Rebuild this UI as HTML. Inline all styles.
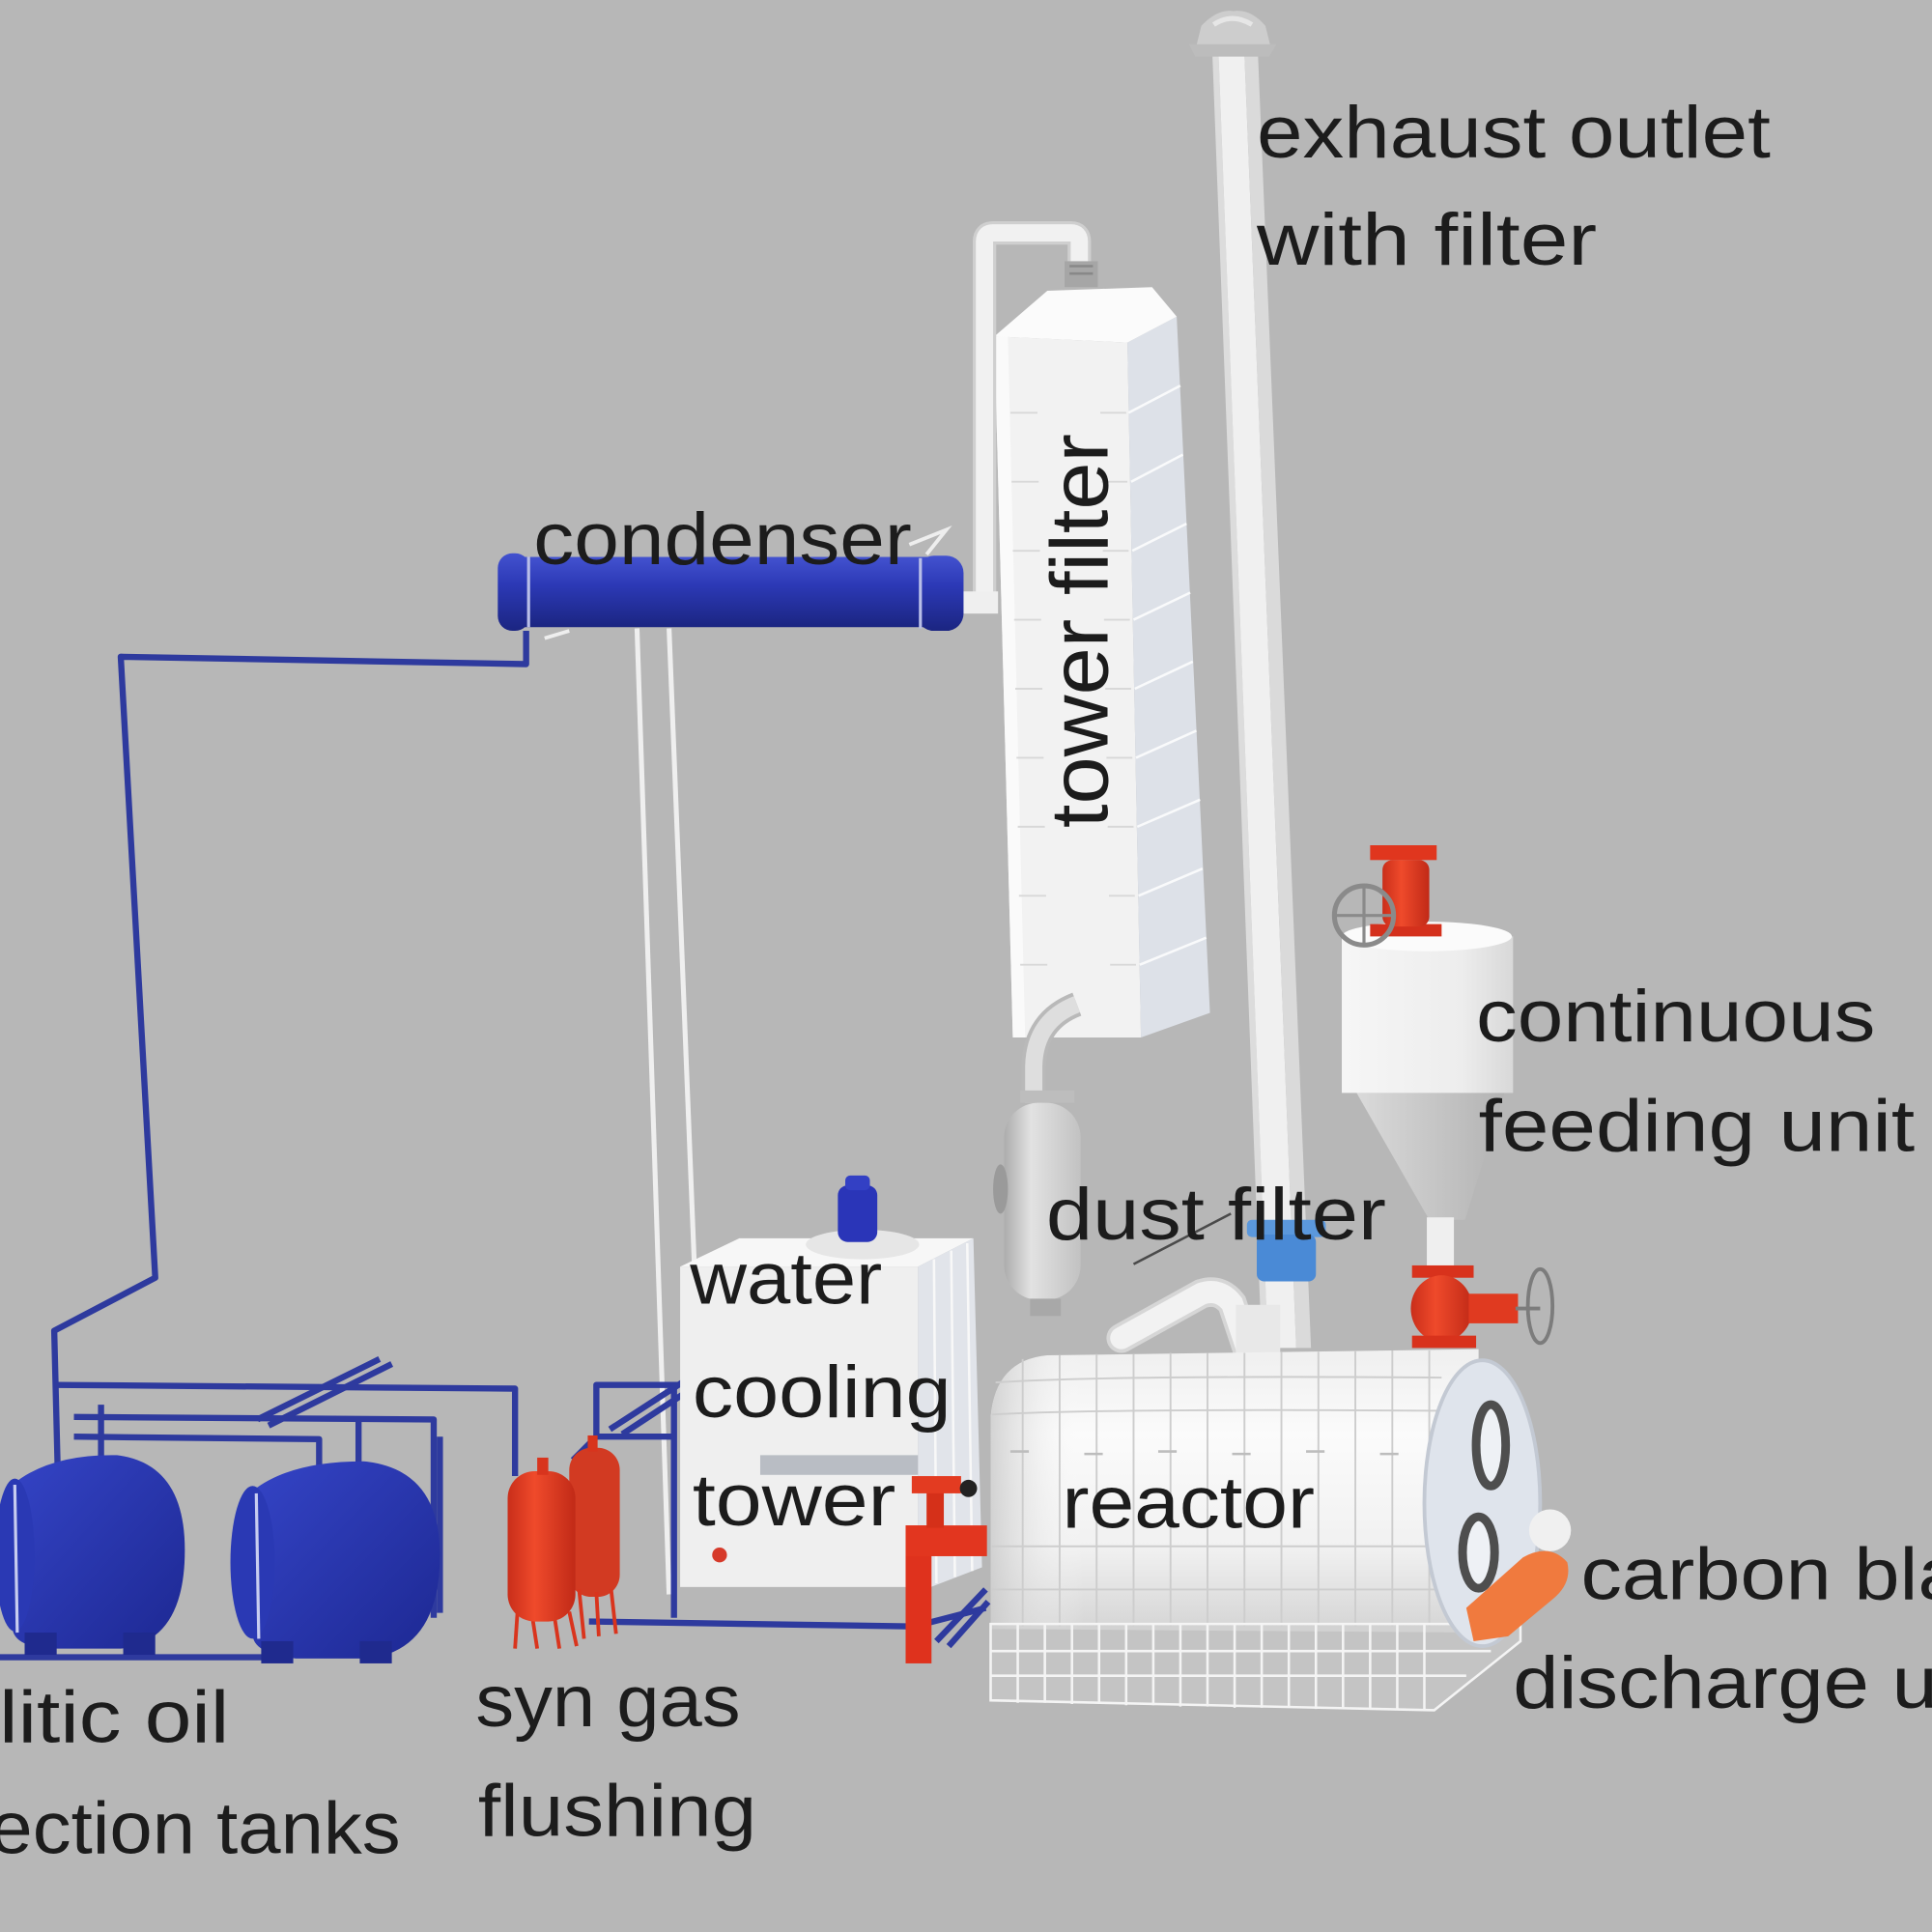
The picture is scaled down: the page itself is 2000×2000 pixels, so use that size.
<!DOCTYPE html>
<html>
<head>
<meta charset="utf-8">
<style>
html,body{margin:0;padding:0;background:#b7b7b7;overflow:hidden;}
svg{display:block;}
text{font-family:"Liberation Sans",sans-serif;fill:#1c1c1c;}
</style>
</head>
<body>
<svg width="2000" height="2000" viewBox="0 0 1568 1568" xmlns="http://www.w3.org/2000/svg">
<defs>
<linearGradient id="gCond" x1="0" y1="0" x2="0" y2="1">
<stop offset="0" stop-color="#4352cf"/><stop offset="0.4" stop-color="#2c39b6"/><stop offset="1" stop-color="#1b2581"/>
</linearGradient>
<linearGradient id="gTank" x1="0" y1="0" x2="1" y2="1">
<stop offset="0" stop-color="#3444c6"/><stop offset="1" stop-color="#1d2892"/>
</linearGradient>
<linearGradient id="gRed" x1="0" y1="0" x2="1" y2="0">
<stop offset="0" stop-color="#c92e1a"/><stop offset="0.4" stop-color="#ef4a2b"/><stop offset="1" stop-color="#c12a17"/>
</linearGradient>
<linearGradient id="gReactor" x1="0" y1="0" x2="0" y2="1">
<stop offset="0" stop-color="#efefef"/><stop offset="0.3" stop-color="#fbfbfb"/><stop offset="0.7" stop-color="#f1f1f1"/><stop offset="1" stop-color="#d4d4d4"/>
</linearGradient>
<linearGradient id="gReactorL" x1="0" y1="0" x2="1" y2="0">
<stop offset="0" stop-color="#c9c9c9" stop-opacity="0.8"/><stop offset="1" stop-color="#ffffff" stop-opacity="0"/>
</linearGradient>
<linearGradient id="gCone" x1="0" y1="0" x2="1" y2="0">
<stop offset="0" stop-color="#dadada"/><stop offset="1" stop-color="#b3b3b3"/>
</linearGradient>
<linearGradient id="gFeed" x1="0" y1="0" x2="1" y2="0">
<stop offset="0" stop-color="#f6f6f6"/><stop offset="0.7" stop-color="#ededed"/><stop offset="1" stop-color="#d8d8d8"/>
</linearGradient>
<linearGradient id="gDust" x1="0" y1="0" x2="1" y2="0">
<stop offset="0" stop-color="#acacac"/><stop offset="0.35" stop-color="#e2e2e2"/><stop offset="1" stop-color="#c2c2c2"/>
</linearGradient>
</defs>

<rect x="0" y="0" width="1568" height="1568" fill="#b7b7b7"/>

<!-- exhaust stack -->
<polygon points="984,45 989,45 1029,1094 1024,1094" fill="#dcdcdc"/>
<polygon points="989,45 1010,45 1052,1094 1029,1094" fill="#f0f0f0"/>
<polygon points="1010,45 1021,45 1064,1094 1052,1094" fill="#dadada"/>
<path d="M971,37 L975,21 Q988,7 1001,9 Q1015,7 1027,21 L1031,37 Z" fill="#cdcdcd"/>
<path d="M985,20 Q1000,10 1016,20" fill="none" stroke="#e6e6e6" stroke-width="4"/>
<polygon points="965,36 1036,36 1030,46 970,46" fill="#bcbcbc"/>

<!-- thin white supports -->
<line x1="517" y1="510" x2="543" y2="1294" stroke="#efefef" stroke-width="4"/>
<line x1="543" y1="510" x2="572" y2="1240" stroke="#efefef" stroke-width="4"/>

<!-- tower filter -->
<polygon points="807,273 915,278 926,842 822,842" fill="#f2f2f2"/>
<polygon points="807,273 818,273 832,842 822,842" fill="#fafafa"/>
<polygon points="915,278 955,257 982,822 926,842" fill="#dde1e8"/>
<polygon points="807,273 850,236 935,233 955,257 915,278" fill="#fbfbfb"/>
<g stroke="#ffffff" stroke-width="2" opacity="0.85">
<line x1="916" y1="335" x2="958" y2="313"/>
<line x1="918" y1="391" x2="960" y2="369"/>
<line x1="919" y1="447" x2="963" y2="425"/>
<line x1="920" y1="503" x2="966" y2="481"/>
<line x1="921" y1="559" x2="968" y2="537"/>
<line x1="922" y1="615" x2="971" y2="593"/>
<line x1="923" y1="671" x2="974" y2="649"/>
<line x1="924" y1="727" x2="976" y2="705"/>
<line x1="925" y1="783" x2="979" y2="761"/>
</g>
<g stroke="#d8d8d8" stroke-width="1.5">
<line x1="820" y1="335" x2="842" y2="335"/><line x1="893" y1="335" x2="914" y2="335"/>
<line x1="821" y1="391" x2="843" y2="391"/><line x1="894" y1="391" x2="915" y2="391"/>
<line x1="822" y1="447" x2="844" y2="447"/><line x1="895" y1="447" x2="916" y2="447"/>
<line x1="823" y1="503" x2="845" y2="503"/><line x1="896" y1="503" x2="917" y2="503"/>
<line x1="824" y1="559" x2="846" y2="559"/><line x1="897" y1="559" x2="918" y2="559"/>
<line x1="825" y1="615" x2="847" y2="615"/><line x1="898" y1="615" x2="919" y2="615"/>
<line x1="826" y1="671" x2="848" y2="671"/><line x1="899" y1="671" x2="920" y2="671"/>
<line x1="827" y1="727" x2="849" y2="727"/><line x1="900" y1="727" x2="921" y2="727"/>
<line x1="828" y1="783" x2="850" y2="783"/><line x1="901" y1="783" x2="922" y2="783"/>
</g>
<path d="M799,497 L799,196 Q799,189 806,189 L869,189 Q876,189 876,196 L876,214" fill="none" stroke="#cfcfcf" stroke-width="19"/>
<path d="M799,497 L799,196 Q799,189 806,189 L869,189 Q876,189 876,196 L876,214" fill="none" stroke="#f1f1f1" stroke-width="14"/>
<rect x="864" y="212" width="27" height="21" fill="#a6a6a6"/>
<line x1="868" y1="216" x2="887" y2="216" stroke="#888" stroke-width="2"/>
<line x1="868" y1="222" x2="887" y2="222" stroke="#888" stroke-width="2"/>

<!-- condenser -->
<rect x="776" y="480" width="34" height="18" fill="#efefef"/>
<rect x="416" y="452" width="344" height="57" fill="url(#gCond)"/>
<rect x="404" y="449" width="26" height="63" rx="12" fill="url(#gCond)"/>
<line x1="429" y1="452" x2="429" y2="509" stroke="#b9bfe8" stroke-width="2.5"/>
<rect x="744" y="451" width="38" height="61" rx="14" fill="url(#gCond)"/>
<line x1="747" y1="453" x2="747" y2="510" stroke="#b9bfe8" stroke-width="2.5"/>
<polyline points="738,442 768,430 752,450" fill="none" stroke="#eeeeee" stroke-width="3"/>
<polyline points="442,518 462,512" fill="none" stroke="#eeeeee" stroke-width="3"/>

<!-- blue piping -->
<g fill="none" stroke="#2e3a9e" stroke-width="5" stroke-linejoin="round">
<path d="M427,512 L427,539 L98,533 L126,1037 L44,1080 L47,1200"/>
<path d="M46,1124 L418,1127 L418,1198"/>
<path d="M60,1150 L352,1152 L352,1313"/>
<path d="M60,1166 L259,1168 L259,1200"/>
<path d="M357,1166 L357,1309"/>
<path d="M0,1345 L226,1345"/>
<path d="M82,1140 L82,1185"/>
<path d="M291,1153 L291,1190"/>
<path d="M209,1152 L308,1103"/>
<path d="M218,1157 L318,1107"/>
<path d="M484,1166 L484,1124 L550,1124"/>
<path d="M547,1124 L547,1313"/>
<path d="M484,1166 L547,1166"/>
<path d="M495,1160 L566,1114"/>
<path d="M505,1164 L572,1120"/>
<path d="M465,1185 L484,1166"/>
<path d="M478,1316 L742,1320 L800,1305"/>
<path d="M760,1332 L800,1290"/>
<path d="M770,1336 L802,1300"/>
</g>

<!-- dust filter -->
<path d="M874,815 Q840,828 839,865 L839,895" fill="none" stroke="#b9b9b9" stroke-width="20"/>
<path d="M874,815 Q840,828 839,865 L839,895" fill="none" stroke="#dedede" stroke-width="14"/>
<rect x="828" y="885" width="44" height="10" fill="#bdbdbd"/>
<rect x="815" y="895" width="62" height="160" rx="28" fill="url(#gDust)"/>
<ellipse cx="812" cy="965" rx="6" ry="20" fill="#9a9a9a"/>
<rect x="836" y="1054" width="25" height="14" fill="#a8a8a8"/>

<!-- feeding unit -->
<polygon points="1101,887 1221,887 1189,990 1160,990" fill="url(#gCone)"/>
<rect x="1089" y="760" width="139" height="127" fill="url(#gFeed)"/>
<ellipse cx="1158" cy="760" rx="69" ry="12" fill="#fbfbfb"/>
<rect x="1158" y="988" width="22" height="42" fill="#efefef"/>
<!-- top valve -->
<rect x="1112" y="750" width="58" height="10" fill="#d4301c"/>
<rect x="1122" y="698" width="38" height="54" rx="8" fill="url(#gRed)"/>
<rect x="1112" y="686" width="54" height="12" fill="#e0361e"/>
<circle cx="1107" cy="743" r="24" fill="none" stroke="#8a8a8a" stroke-width="4"/>
<line x1="1083" y1="743" x2="1131" y2="743" stroke="#8a8a8a" stroke-width="2.5"/>
<line x1="1107" y1="719" x2="1107" y2="767" stroke="#8a8a8a" stroke-width="2.5"/>
<!-- bottom valve -->
<rect x="1146" y="1027" width="50" height="10" fill="#d8321c"/>
<ellipse cx="1170" cy="1062" rx="25" ry="27" fill="url(#gRed)"/>
<rect x="1146" y="1084" width="52" height="10" fill="#d8321c"/>
<rect x="1192" y="1050" width="40" height="24" fill="#e03a20"/>
<ellipse cx="1250" cy="1060" rx="10" ry="30" fill="none" stroke="#7c7c7c" stroke-width="3"/>
<line x1="1230" y1="1062" x2="1250" y2="1062" stroke="#7c7c7c" stroke-width="3"/>

<!-- water cooling tower -->
<rect x="552" y="1028" width="193" height="260" fill="#efefef"/>
<polygon points="552,1028 600,1005 790,1005 745,1028" fill="#f7f7f7"/>
<polygon points="745,1028 790,1005 797,1272 745,1292" fill="#e1e4ea"/>
<g stroke="#f8f8f8" stroke-width="2">
<line x1="758" y1="1022" x2="760" y2="1285"/>
<line x1="772" y1="1015" x2="775" y2="1280"/>
<line x1="785" y1="1009" x2="789" y2="1275"/>
</g>
<ellipse cx="700" cy="1010" rx="46" ry="12" fill="#e6e6e6"/>
<rect x="680" y="962" width="32" height="46" rx="8" fill="#2a35b8"/>
<rect x="686" y="954" width="20" height="12" rx="4" fill="#3340c4"/>
<rect x="617" y="1181" width="128" height="16" fill="#a2a8b2" opacity="0.7"/>
<circle cx="584" cy="1262" r="6" fill="#d63a2a"/>

<!-- red pipe near tower -->
<rect x="735" y="1238" width="21" height="112" fill="#df321d"/>
<rect x="735" y="1238" width="66" height="25" fill="#e2361f"/>
<rect x="752" y="1205" width="14" height="35" fill="#d53019"/>
<rect x="740" y="1198" width="40" height="14" fill="#e33b21"/>
<circle cx="786" cy="1208" r="7" fill="#222"/>

<!-- reactor -->
<path d="M1014,1100 L1000,1058 Q990,1045 975,1050 L910,1086" fill="none" stroke="#d6d6d6" stroke-width="24" stroke-linecap="round"/>
<path d="M1014,1100 L1000,1058 Q990,1045 975,1050 L910,1086" fill="none" stroke="#f2f2f2" stroke-width="18" stroke-linecap="round"/>
<rect x="1003" y="1059" width="36" height="40" fill="#e8e8e8"/>
<path d="M804,1322 L804,1150 Q808,1104 850,1100 L1200,1095 L1200,1325 Z" fill="url(#gReactor)"/>
<path d="M804,1322 L804,1150 Q808,1104 850,1100 L880,1100 L880,1322 Z" fill="url(#gReactorL)"/>
<g stroke="#cdcdcd" stroke-width="1.5" fill="none">
<path d="M830,1103 L830,1320"/><path d="M860,1100 L860,1320"/><path d="M890,1099 L890,1320"/>
<path d="M920,1099 L920,1320"/><path d="M950,1098 L950,1320"/><path d="M980,1098 L980,1320"/>
<path d="M1010,1098 L1010,1320"/><path d="M1040,1097 L1040,1320"/><path d="M1070,1097 L1070,1320"/>
<path d="M1100,1096 L1100,1320"/><path d="M1130,1096 L1130,1320"/><path d="M1160,1096 L1160,1320"/>
<path d="M808,1122 Q900,1116 1170,1118"/>
<path d="M805,1148 Q900,1143 1170,1145"/>
<path d="M805,1255 L1170,1255"/>
<path d="M805,1290 L1170,1290"/>
</g>
<g stroke="#bdbdbd" stroke-width="2">
<line x1="820" y1="1178" x2="835" y2="1178"/><line x1="880" y1="1180" x2="895" y2="1180"/>
<line x1="940" y1="1178" x2="955" y2="1178"/><line x1="1000" y1="1180" x2="1015" y2="1180"/>
<line x1="1060" y1="1178" x2="1075" y2="1178"/><line x1="1120" y1="1180" x2="1135" y2="1180"/>
</g>
<!-- cage -->
<polygon points="804,1318 1234,1318 1234,1332 1164,1388 804,1380" fill="#cfcfcf" opacity="0.55"/>
<g stroke="#f4f4f4" stroke-width="2" fill="none">
<polygon points="804,1318 1234,1318 1234,1332 1164,1388 804,1380"/>
<line x1="804" y1="1340" x2="1210" y2="1340"/>
<line x1="804" y1="1360" x2="1190" y2="1360"/>
<line x1="826" y1="1318" x2="826" y2="1382"/><line x1="848" y1="1318" x2="848" y2="1382"/>
<line x1="870" y1="1318" x2="870" y2="1383"/><line x1="892" y1="1318" x2="892" y2="1383"/>
<line x1="914" y1="1318" x2="914" y2="1384"/><line x1="936" y1="1318" x2="936" y2="1384"/>
<line x1="958" y1="1318" x2="958" y2="1385"/><line x1="980" y1="1318" x2="980" y2="1385"/>
<line x1="1002" y1="1318" x2="1002" y2="1386"/><line x1="1024" y1="1318" x2="1024" y2="1386"/>
<line x1="1046" y1="1318" x2="1046" y2="1386"/><line x1="1068" y1="1318" x2="1068" y2="1387"/>
<line x1="1090" y1="1318" x2="1090" y2="1387"/><line x1="1112" y1="1318" x2="1112" y2="1387"/>
<line x1="1134" y1="1318" x2="1134" y2="1388"/><line x1="1156" y1="1318" x2="1156" y2="1388"/>
</g>
<!-- end cap -->
<ellipse cx="1203" cy="1220" rx="47" ry="116" fill="#dfe4ec" stroke="#c3c9d3" stroke-width="3"/>
<ellipse cx="1210" cy="1173" rx="12" ry="33" fill="#eef1f5" stroke="#4e4e4e" stroke-width="7"/>
<ellipse cx="1200" cy="1260" rx="13" ry="29" fill="#eef1f5" stroke="#4e4e4e" stroke-width="7"/>
<!-- discharge -->
<circle cx="1258" cy="1242" r="17" fill="#f0f0f0"/>
<path d="M1190,1305 L1236,1264 Q1258,1252 1272,1268 Q1276,1285 1260,1298 L1224,1328 L1196,1332 Z" fill="#f07a3e"/>
<!-- blue flange on stack -->
<rect x="1012" y="990" width="64" height="14" rx="4" fill="#5b98dc"/>
<rect x="1020" y="1002" width="48" height="38" rx="6" fill="#4a8ad6"/>
<line x1="920" y1="1026" x2="999" y2="985" stroke="#4a4a4a" stroke-width="2"/>

<!-- collection tanks -->
<path d="M10,1205 Q40,1180 95,1181 Q150,1188 150,1258 Q150,1332 98,1338 L40,1338 Q10,1336 10,1320 Z" fill="url(#gTank)"/>
<ellipse cx="12" cy="1262" rx="16" ry="62" fill="#2a39b4"/>
<line x1="12" y1="1205" x2="14" y2="1325" stroke="#c8cdf0" stroke-width="2.5"/>
<path d="M205,1210 Q235,1186 295,1186 Q357,1192 357,1262 Q357,1338 300,1346 L240,1346 Q205,1342 205,1326 Z" fill="url(#gTank)"/>
<ellipse cx="205" cy="1268" rx="18" ry="62" fill="#2a39b4"/>
<line x1="208" y1="1212" x2="210" y2="1330" stroke="#c8cdf0" stroke-width="2.5"/>
<g fill="#1f2a8e">
<rect x="20" y="1325" width="26" height="18"/><rect x="100" y="1325" width="26" height="18"/>
<rect x="212" y="1332" width="26" height="18"/><rect x="292" y="1332" width="26" height="18"/>
</g>

<!-- syn gas flushing -->
<rect x="462" y="1175" width="41" height="121" rx="18" fill="#d23a22"/>
<g stroke="#d9341d" stroke-width="3">
<line x1="470" y1="1290" x2="474" y2="1330"/><line x1="484" y1="1292" x2="486" y2="1328"/>
<line x1="496" y1="1290" x2="500" y2="1326"/>
<line x1="420" y1="1308" x2="418" y2="1338"/><line x1="432" y1="1312" x2="436" y2="1338"/>
<line x1="450" y1="1312" x2="454" y2="1338"/><line x1="462" y1="1308" x2="468" y2="1336"/>
</g>
<rect x="412" y="1194" width="55" height="122" rx="22" fill="url(#gRed)"/>
<rect x="436" y="1183" width="9" height="14" fill="#d8341d"/>
<rect x="477" y="1165" width="8" height="13" fill="#d8341d"/>

<!-- labels -->
<text x="1020" y="128" font-size="60" textLength="417" lengthAdjust="spacingAndGlyphs">exhaust outlet</text>
<text x="1020" y="215" font-size="60" textLength="276" lengthAdjust="spacingAndGlyphs">with filter</text>
<text x="433" y="458" font-size="60" textLength="307" lengthAdjust="spacingAndGlyphs">condenser</text>
<text transform="translate(899,672) rotate(-90)" x="0" y="0" font-size="66" textLength="320" lengthAdjust="spacingAndGlyphs">tower filter</text>
<text x="1198" y="845" font-size="60" textLength="324" lengthAdjust="spacingAndGlyphs">continuous</text>
<text x="1200" y="934" font-size="60" textLength="354" lengthAdjust="spacingAndGlyphs">feeding unit</text>
<text x="849" y="1006" font-size="60" textLength="276" lengthAdjust="spacingAndGlyphs">dust filter</text>
<text x="560" y="1058" font-size="60" textLength="156" lengthAdjust="spacingAndGlyphs">water</text>
<text x="562" y="1150" font-size="60" textLength="210" lengthAdjust="spacingAndGlyphs">cooling</text>
<text x="562" y="1238" font-size="60" textLength="165" lengthAdjust="spacingAndGlyphs">tower</text>
<text x="862" y="1240" font-size="60" textLength="205" lengthAdjust="spacingAndGlyphs">reactor</text>
<text x="1283" y="1298" font-size="60" textLength="377" lengthAdjust="spacingAndGlyphs">carbon black</text>
<text x="1228" y="1386" font-size="60" textLength="415" lengthAdjust="spacingAndGlyphs">discharge unit</text>
<text x="-134" y="1414" font-size="60" textLength="320" lengthAdjust="spacingAndGlyphs">pyrolitic oil</text>
<text x="-102" y="1504" font-size="60" textLength="427" lengthAdjust="spacingAndGlyphs">collection tanks</text>
<text x="386" y="1401" font-size="60" textLength="215" lengthAdjust="spacingAndGlyphs">syn gas</text>
<text x="388" y="1490" font-size="60" textLength="226" lengthAdjust="spacingAndGlyphs">flushing</text>
</svg>
</body>
</html>
